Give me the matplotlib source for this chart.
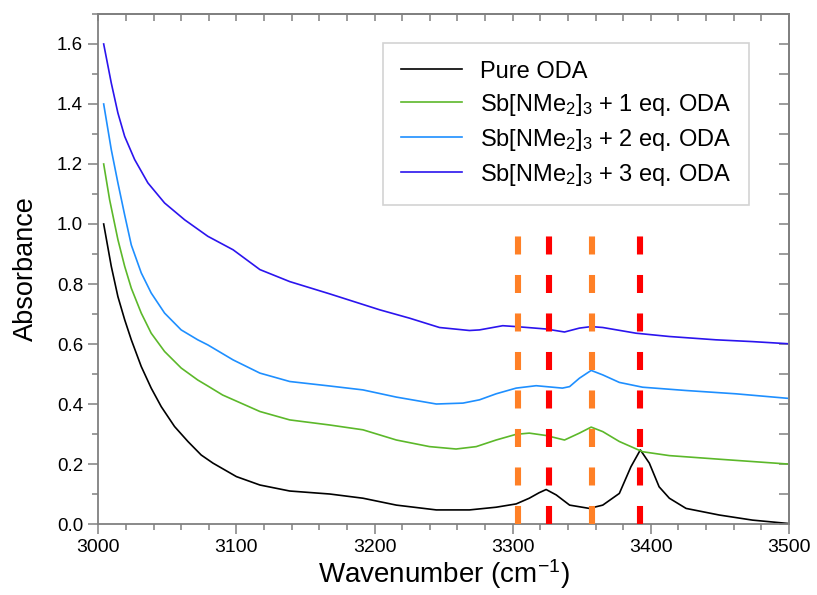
import numpy as np
import matplotlib
matplotlib.use("Agg")
import matplotlib.pyplot as plt
from matplotlib.ticker import MultipleLocator

plt.rcParams["font.family"] = ["Liberation Sans", "DejaVu Sans"]
plt.rcParams["mathtext.default"] = "regular"

# FTIR spectra, wavenumber (cm-1) vs absorbance (offset by 0.2 each)
wn_pure = [3003.9, 3009.4, 3014.2, 3019.1, 3023.9, 3031.1, 3038.3, 3045.6, 3055.2,
           3064.9, 3074.5, 3083, 3100, 3117, 3138.6, 3167.6, 3191.6, 3215.8,
           3244.7, 3268.7, 3288, 3302.5, 3312, 3319, 3324.2, 3331.5, 3341.2,
           3355.5, 3365.2, 3377.2, 3385.6, 3392.4, 3398.9, 3406, 3413.4, 3425.5,
           3449.5, 3473.6, 3499]
abs_pure = [1.0, 0.859, 0.758, 0.681, 0.614, 0.525, 0.453, 0.391, 0.325,
            0.275, 0.230, 0.203, 0.158, 0.130, 0.110, 0.100, 0.086, 0.063,
            0.047, 0.047, 0.056, 0.067, 0.086, 0.104, 0.115, 0.097, 0.063,
            0.052, 0.063, 0.102, 0.191, 0.247, 0.203, 0.124, 0.086, 0.052,
            0.030, 0.013, 0.002]

wn_1eq = [3003.9, 3008.2, 3014.2, 3019.1, 3023.9, 3031.1, 3038.3, 3048, 3060,
          3072, 3079.3, 3090, 3117, 3138.6, 3167.6, 3191.6, 3215.8, 3239.8,
          3259, 3273.6, 3288, 3302.5, 3312, 3324.2, 3337.5, 3348.3, 3356.8,
          3365.2, 3377.2, 3394, 3413.4, 3449.5, 3499]
abs_1eq = [1.2, 1.081, 0.948, 0.859, 0.786, 0.703, 0.636, 0.575, 0.520,
           0.480, 0.460, 0.430, 0.375, 0.347, 0.330, 0.314, 0.280, 0.258,
           0.250, 0.258, 0.280, 0.299, 0.303, 0.295, 0.280, 0.303, 0.323,
           0.308, 0.275, 0.241, 0.228, 0.216, 0.200]

wn_2eq = [3003.9, 3009.4, 3014.2, 3019.1, 3023.9, 3031.1, 3038.3, 3048, 3060,
          3072, 3079.3, 3097.6, 3117, 3138.6, 3167.6, 3191.6, 3215.8, 3244.7,
          3264, 3276, 3288, 3302.5, 3317, 3336, 3341.2, 3348.3, 3356.8, 3365.2,
          3377.2, 3394, 3425.5, 3461.6, 3499]
abs_2eq = [1.4, 1.248, 1.137, 1.030, 0.930, 0.837, 0.770, 0.703, 0.647,
           0.614, 0.597, 0.547, 0.503, 0.475, 0.460, 0.447, 0.423, 0.400,
           0.403, 0.414, 0.434, 0.453, 0.461, 0.453, 0.458, 0.486, 0.512, 0.497,
           0.472, 0.456, 0.445, 0.434, 0.419]

wn_3eq = [3003.9, 3009.4, 3014.2, 3019.1, 3026.3, 3035.9, 3048, 3062.5, 3079.3,
          3097.6, 3117, 3138.6, 3167.6, 3203.7, 3225.4, 3247, 3268.7, 3276,
          3292.8, 3302.5, 3324.2, 3337.5, 3348.3, 3356.8, 3365.2, 3389.3,
          3413.4, 3447, 3473.6, 3499]
abs_3eq = [1.6, 1.470, 1.370, 1.292, 1.215, 1.137, 1.070, 1.014, 0.959,
           0.914, 0.848, 0.808, 0.767, 0.714, 0.686, 0.655, 0.645, 0.647,
           0.661, 0.658, 0.650, 0.640, 0.653, 0.658, 0.655, 0.636,
           0.625, 0.614, 0.608, 0.601]

labels = ["Pure ODA",
          "Sb[NMe$_2$]$_3$ + 1 eq. ODA",
          "Sb[NMe$_2$]$_3$ + 2 eq. ODA",
          "Sb[NMe$_2$]$_3$ + 3 eq. ODA"]
colors = ["#000000", "#5cb82a", "#1e8fff", "#2b14ee"]

# N-H stretch positions marked with dashed guides
orange_lines = [3304, 3357.5]
red_lines = [3326.6, 3392.4]
guide_top = 0.97

fig = plt.figure(figsize=(8.17, 5.95), dpi=100)
ax = fig.add_axes([0.1203, 0.1193, 0.8454, 0.8572])

series = [(wn_pure, abs_pure), (wn_1eq, abs_1eq), (wn_2eq, abs_2eq), (wn_3eq, abs_3eq)]
for (x, y), c, lab in zip(series, colors, labels):
    ax.plot(x, y, color=c, lw=1.2, label=lab)

for xv in orange_lines:
    ax.plot([xv, xv], [0, guide_top], color="#ff8026", lw=4.4,
            dashes=(2.95, 3.35), solid_capstyle="butt", zorder=3)
for xv in red_lines:
    ax.plot([xv, xv], [0, guide_top], color="#ff0000", lw=4.4,
            dashes=(2.95, 3.35), solid_capstyle="butt", zorder=3)

ax.set_xlim(3000, 3500)
ax.set_ylim(0, 1.7)
ax.xaxis.set_major_locator(MultipleLocator(100))
ax.xaxis.set_minor_locator(MultipleLocator(20))
ax.yaxis.set_major_locator(MultipleLocator(0.2))
ax.yaxis.set_minor_locator(MultipleLocator(0.1))
ax.yaxis.set_major_formatter(plt.FormatStrFormatter("%.1f"))

spine_c = "#808080"
for s in ax.spines.values():
    s.set_color(spine_c)
    s.set_linewidth(1.3)
ax.tick_params(which="both", direction="out", color=spine_c, width=1.1,
               labelsize=13.5, labelcolor="black")
ax.tick_params(which="major", length=7)
ax.tick_params(which="minor", length=4)
ax.tick_params(axis="y", pad=4)
ax.tick_params(axis="x", labelsize=14)

# mirrored inward ticks on top and right
top = ax.secondary_xaxis("top")
top.xaxis.set_major_locator(MultipleLocator(100))
top.xaxis.set_minor_locator(MultipleLocator(20))
top.tick_params(which="both", direction="in", color=spine_c, width=1.1,
                labeltop=False)
top.tick_params(which="major", length=5)
top.tick_params(which="minor", length=5)
top.spines["top"].set_color(spine_c)
top.spines["top"].set_linewidth(1.3)
right = ax.secondary_yaxis("right")
right.yaxis.set_major_locator(MultipleLocator(0.2))
right.yaxis.set_minor_locator(MultipleLocator(0.1))
right.tick_params(which="both", direction="in", color=spine_c, width=1.1,
                  labelright=False)
right.tick_params(which="major", length=7)
right.tick_params(which="minor", length=7)
right.spines["right"].set_color(spine_c)
right.spines["right"].set_linewidth(1.3)

ax.set_xlabel("Wavenumber (cm$^{-1}$)", fontsize=20, labelpad=1)
ax.set_ylabel("Absorbance", fontsize=19.5, labelpad=13)

leg = ax.legend(loc="upper left", bbox_to_anchor=(0.412, 0.943), fontsize=17,
                frameon=True, fancybox=False, edgecolor="#c8c8c8",
                handlelength=2.6, handletextpad=0.75, labelspacing=0.38,
                borderpad=0.75, borderaxespad=0)
leg.get_frame().set_linewidth(1.2)

fig.savefig("out.png", dpi=100)
